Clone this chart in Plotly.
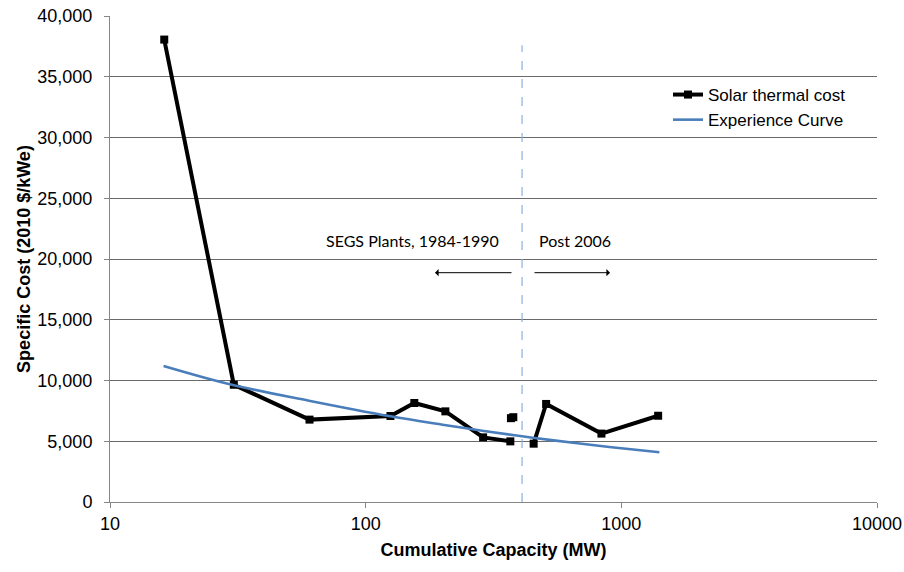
import plotly.graph_objects as go

# Solar thermal cost (None = gap between segments)
cost_x = [16.3, 30.5, 60.3, 125, 155, 205, 288, 368, None, 370, 378, None, 454, 508, 836, 1393]
cost_y = [38060, 9650, 6780, 7080, 8150, 7460, 5320, 4990, None, 6900, 6980, None, 4800, 8070, 5630, 7100]

# Experience curve
exp_x = [16.2, 30, 60, 125, 200, 290, 450, 700, 1000, 1409]
exp_y = [11200, 9650, 8330, 7050, 6360, 5850, 5290, 4790, 4420, 4090]

# Divider between SEGS and post-2006 plants
divider_x = [409, 409]
divider_y = [0, 37600]

y_ticks = [0, 5000, 10000, 15000, 20000, 25000, 30000, 35000, 40000]
x_ticks = [10, 100, 1000, 10000]
x_tick_labels = ["10", "100", "1000", "10000"]

fig = go.Figure()

fig.add_trace(go.Scatter(
    x=divider_x, y=divider_y, mode="lines",
    line=dict(color="#8eb0dc", width=1.2, dash="dash"),
    showlegend=False, hoverinfo="skip"))

fig.add_trace(go.Scatter(
    x=cost_x, y=cost_y, mode="lines+markers", name="Solar thermal cost",
    line=dict(color="black", width=4),
    marker=dict(symbol="square", size=8, color="black"),
    connectgaps=False))

fig.add_trace(go.Scatter(
    x=exp_x, y=exp_y, mode="lines", name="Experience Curve",
    line=dict(color="#4a7ebb", width=2.6, shape="spline")))

W, H = 904, 572
PL, PR, PT, PB = 110, 877, 16, 502  # plot area in page pixels
L, R, T, B = PL, W - PR, PT, H - PB

def px(xp):
    return (xp - PL) / (PR - PL)

def py(yp):
    return (PB - yp) / (PB - PT)

ann_font = dict(family="Lato, Carlito, Calibri, sans-serif", size=16, color="black")

fig.update_layout(
    width=W, height=H,
    margin=dict(l=L, r=R, t=T, b=B, autoexpand=False),
    paper_bgcolor="white", plot_bgcolor="white",
    font=dict(family="Liberation Sans, Arial, sans-serif", size=18, color="black"),
    showlegend=True,
    legend=dict(x=px(668), y=py(77), xanchor="left", yanchor="top",
                bgcolor="rgba(0,0,0,0)", font=dict(size=17),
                itemwidth=30),
    xaxis=dict(type="log", range=[1, 4], tickvals=x_ticks, ticktext=x_tick_labels,
               showgrid=False, showline=True, linecolor="#868686", linewidth=1,
               ticks="outside", ticklen=5, tickcolor="#868686",
               zeroline=False, automargin=False,
               title=dict(text="<b>Cumulative Capacity (MW)</b>", font=dict(size=18), standoff=10)),
    yaxis=dict(range=[0, 40000], tickvals=y_ticks, tickformat=",",
               showgrid=True, gridcolor="#6a6a6a", gridwidth=1,
               showline=True, linecolor="#868686", linewidth=1,
               ticks="outside", ticklen=5, tickcolor="#868686",
               zeroline=False, automargin=False, ticklabelstandoff=8,
               title=dict(text="<b>Specific Cost (2010 $/kWe)</b>", font=dict(size=18), standoff=2)),
    annotations=[
        dict(xref="paper", yref="paper", x=px(412.7), y=py(240.7), text="SEGS Plants, 1984-1990",
             showarrow=False, font=ann_font, xanchor="center", yanchor="middle"),
        dict(xref="paper", yref="paper", x=px(574.7), y=py(240.7), text="Post 2006",
             showarrow=False, font=ann_font, xanchor="center", yanchor="middle"),
        dict(xref="paper", yref="paper", x=px(435), y=py(272.7), text="",
             showarrow=True, ax=78, ay=0, arrowhead=1, arrowsize=1.2, arrowwidth=1,
             arrowcolor="black"),
        dict(xref="paper", yref="paper", x=px(610), y=py(272.7), text="",
             showarrow=True, ax=-77, ay=0, arrowhead=1, arrowsize=1.2, arrowwidth=1,
             arrowcolor="black"),
    ],
)

fig.write_html("out.html",
               config={"displayModeBar": False},
               post_script="document.body.style.margin='0px';document.body.style.overflow='hidden';")
